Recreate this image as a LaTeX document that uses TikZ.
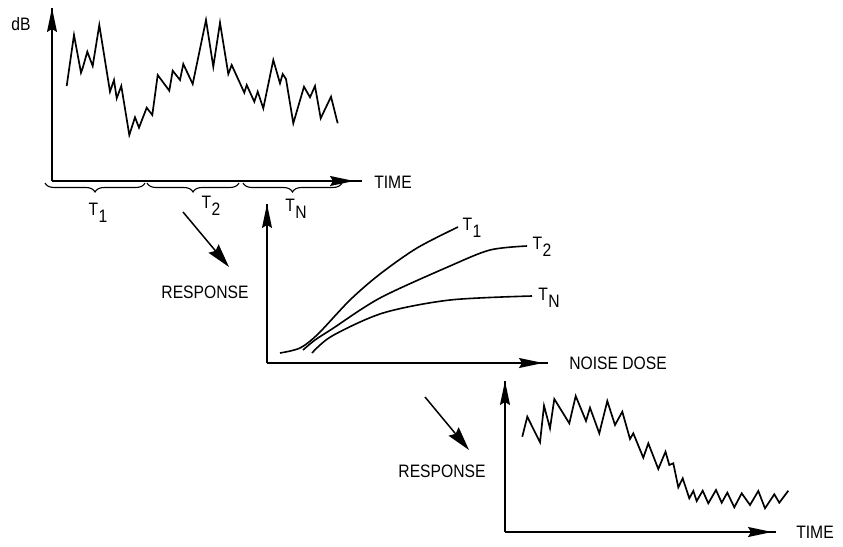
\documentclass[tikz,border=0pt]{standalone}
\usepackage{fontspec}
\setmainfont{Liberation Sans}[FakeStretch=0.87]
\usetikzlibrary{arrows.meta,decorations.pathreplacing}
\newcommand\Tlab[1]{T\kern0.5pt\raisebox{-7pt}{#1}}
\begin{document}
\begin{tikzpicture}[x=1pt,y=-1pt,
  lbl/.style={font=\fontsize{18}{18}\selectfont, inner sep=0pt},
  axisline/.style={line width=1.3pt},
  tiponly/.style={line width=1.3pt,-{Stealth[length=24pt,width=10pt,inset=3pt]}},
  diagarrow/.style={line width=1.5pt,-{Stealth[length=24pt,width=13pt,inset=3pt]}},
  zig/.style={line width=1.7pt,line join=miter},
  curve/.style={line width=1.6pt},
  bracedec/.style={line width=1.1pt,decorate,decoration={brace,mirror,amplitude=9pt}}]
\useasboundingbox (0,0) rectangle (843,546);

% ---------- top chart ----------
\coordinate (o1) at (52,181);
\coordinate (y1) at (52,8);
\coordinate (y1pre) at (52,40);
\coordinate (x1pre) at (320,181);
\coordinate (x1tip) at (354,181);
\coordinate (x1end) at (362,181);
\draw[axisline] (o1) -- (y1);
\draw[tiponly] (y1pre) -- (y1);
\draw[axisline] (o1) -- (x1end);
\draw[tiponly] (x1pre) -- (x1tip);
\node[lbl] (dB) at (21,24) {dB};
\node[lbl] (time1) at (393,182) {TIME};

\draw[zig] (66.7,86) -- (74,35) -- (81,72.7) -- (82.7,68) -- (87.3,51.7) -- (92.7,66) -- (99.3,25) -- (110,91.7) -- (114,80) -- (116.7,98.3) -- (121.3,86) -- (129.3,135) -- (135,117.3) -- (139,127.7) -- (146.7,107.7) -- (152.3,115) -- (157.7,75) -- (169.3,90.7) -- (172.7,70.7) -- (180,80) -- (183.3,64) -- (192.7,84) -- (206,20) -- (213.3,66.7) -- (220,22.7) -- (228.3,74) -- (231.7,65) -- (244.3,92.7) -- (246.7,85) -- (254.3,101.7) -- (257.7,91.7) -- (263.3,108.3) -- (273.3,60) -- (280,83.3) -- (282.7,74) -- (286,79) -- (293.3,123.3) -- (304,86.7) -- (310,97.3) -- (315,86) -- (320.7,118.3) -- (331,96.7) -- (337.7,123.3);

\draw[bracedec] (45,183) -- (145,183);
\draw[bracedec] (147,183) -- (239,183);
\draw[bracedec] (243,183) -- (342,183);
\node[lbl] (t1a) at (98,213) {\Tlab{1}};
\node[lbl] (t2a) at (211,206) {\Tlab{2}};
\node[lbl] (tna) at (296,209) {\Tlab{N}};

% ---------- arrow 1 ----------
\coordinate (a1s) at (183,212);
\coordinate (a1e) at (229,267);
\draw[diagarrow] (a1s) -- (a1e);
\node[lbl] (resp1) at (205,292) {RESPONSE};

% ---------- middle chart ----------
\coordinate (o2) at (267,363);
\coordinate (y2) at (267,204);
\coordinate (y2pre) at (267,240);
\coordinate (x2pre) at (510,363);
\coordinate (x2) at (543,363);
\coordinate (x2end) at (548,363);
\draw[axisline] (o2) -- (y2);
\draw[tiponly] (y2pre) -- (y2);
\draw[axisline] (o2) -- (x2end);
\draw[tiponly] (x2pre) -- (x2);
\node[lbl] (dose) at (618,363) {NOISE DOSE};

\draw[curve] plot[smooth] coordinates {(280,353) (300,348) (318,334) (350,300) (380,274) (417,248) (458,227)};
\draw[curve] plot[smooth] coordinates {(303,350) (315,340) (332,329) (380,298) (450,266) (490,250) (527,246)};
\draw[curve] plot[smooth] coordinates {(312,353) (332,336) (383,313) (450,300) (532,296)};
\node[lbl] (t1b) at (472,228) {\Tlab{1}};
\node[lbl] (t2b) at (542,247) {\Tlab{2}};
\node[lbl] (tnb) at (549,298) {\Tlab{N}};

% ---------- arrow 2 ----------
\coordinate (a2s) at (425,397);
\coordinate (a2e) at (469,450);
\draw[diagarrow] (a2s) -- (a2e);
\node[lbl] (resp2) at (442,471) {RESPONSE};

% ---------- bottom chart ----------
\coordinate (o3) at (505,532);
\coordinate (y3) at (505,381);
\coordinate (y3pre) at (505,415);
\coordinate (x3pre) at (740,532);
\coordinate (x3tip) at (772,532);
\coordinate (x3end) at (776,532);
\draw[axisline] (o3) -- (y3);
\draw[tiponly] (y3pre) -- (y3);
\draw[axisline] (o3) -- (x3end);
\draw[tiponly] (x3pre) -- (x3tip);
\node[lbl] (time2) at (815,532) {TIME};

\draw[zig] (522.3,436.7) -- (527.3,416.7) -- (540,442.3) -- (544,405.7) -- (550,428.3) -- (554.3,399) -- (569.3,423.3) -- (575.7,396) -- (586,421) -- (590,407.7) -- (599.3,433.3) -- (607.3,401) -- (615,425) -- (622.3,411.7) -- (630,439) -- (633.3,433.3) -- (643.3,457.7) -- (648.3,443.3) -- (658.3,469) -- (665.5,451.7) -- (669.3,465) -- (673.3,463.3) -- (678.3,487.3) -- (682.7,478.3) -- (689.3,498.3) -- (693.3,491) -- (696.7,501) -- (702.7,490.7) -- (708.3,503.3) -- (716,490) -- (721.7,502.7) -- (727.3,492.7) -- (734.3,507.3) -- (741.7,493.3) -- (750,505) -- (758.3,491) -- (765,508.3) -- (774.3,494.3) -- (779.3,502.7) -- (788.3,490.7);
\end{tikzpicture}
\end{document}
